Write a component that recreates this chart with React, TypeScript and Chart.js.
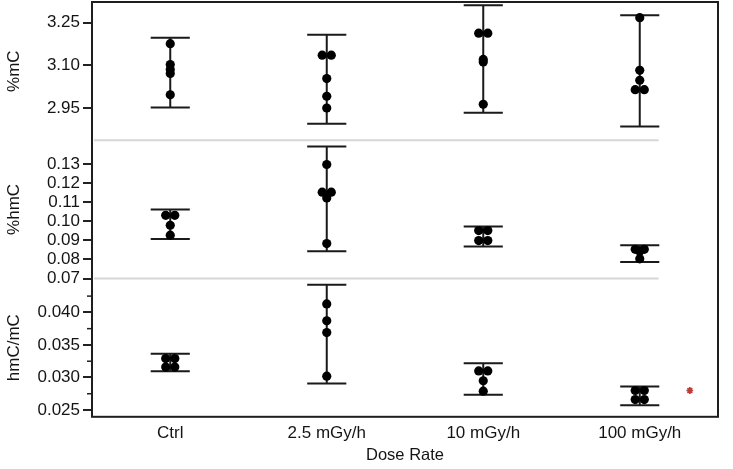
import React, { useEffect, useRef } from 'react';
import { Chart, registerables } from 'chart.js';

Chart.register(...registerables);

// ---------- data ----------
const categories = ['Ctrl', '2.5 mGy/h', '10 mGy/h', '100 mGy/h'];

// %mC
const mcCtrl = [3.176, 3.103, 3.086, 3.072, 2.997];
const mc25 = [3.136, 3.136, 3.054, 2.992, 2.951];
const mc10 = [3.213, 3.213, 3.121, 3.112, 2.964];
const mc100 = [3.267, 3.083, 3.048, 3.015, 3.015];
const mcLower = [2.953, 2.896, 2.934, 2.886];
const mcUpper = [3.197, 3.207, 3.311, 3.276];
const mcTicks = [2.95, 3.1, 3.25];
const mcRange = [2.838, 3.322];

// %hmC
const hmcCtrl = [0.1031, 0.1031, 0.0979, 0.0927];
const hmc25 = [0.1297, 0.1152, 0.1152, 0.1122, 0.0883];
const hmc10 = [0.0951, 0.0951, 0.0899, 0.0899];
const hmc100 = [0.0853, 0.0853, 0.0843, 0.0803];
const hmcLower = [0.0907, 0.0843, 0.0868, 0.0787];
const hmcUpper = [0.1061, 0.1391, 0.0972, 0.0874];
const hmcTicks = [0.07, 0.08, 0.09, 0.1, 0.11, 0.12, 0.13];
const hmcRange = [0.07, 0.1424];

// hmC/mC
const ratioCtrl = [0.0329, 0.0329, 0.0316, 0.0316];
const ratio25 = [0.0413, 0.0387, 0.0369, 0.0302];
const ratio10 = [0.031, 0.031, 0.0295, 0.0279];
const ratio100 = [0.028, 0.028, 0.0266, 0.0266];
const ratioLower = [0.03094, 0.02907, 0.02733, 0.02575];
const ratioUpper = [0.03365, 0.04425, 0.0322, 0.0286];
const ratioTicks = [0.025, 0.03, 0.035, 0.04];
const ratioMinorTicks = [0.0275, 0.0325, 0.0375, 0.0425];
const ratioRange = [0.02396, 0.0452];

// significance mark (hmC/mC, next to 100 mGy/h)
const sigCategory = 3;
const sigValue = 0.028;

// ---------- build ----------
// listed top panel first
const panels = [
  { id: 'yA', title: '%mC', values: [mcCtrl, mc25, mc10, mc100], lower: mcLower, upper: mcUpper, ticks: mcTicks, minor: [] as number[], range: mcRange, decimals: 2 },
  { id: 'yB', title: '%hmC', values: [hmcCtrl, hmc25, hmc10, hmc100], lower: hmcLower, upper: hmcUpper, ticks: hmcTicks, minor: [] as number[], range: hmcRange, decimals: 2 },
  { id: 'yC', title: 'hmC/mC', values: [ratioCtrl, ratio25, ratio10, ratio100], lower: ratioLower, upper: ratioUpper, ticks: ratioTicks, minor: ratioMinorTicks, range: ratioRange, decimals: 3 },
];

const DODGE = 0.058;
const CAP = 0.125;

function dodge(vals: number[], thresh: number) {
  const sorted = [...vals].sort((a, b) => b - a);
  const out: { v: number; off: number }[] = [];
  let i = 0;
  while (i < sorted.length) {
    let j = i + 1;
    while (j < sorted.length && Math.abs(sorted[j] - sorted[j - 1]) < thresh) j++;
    const n = j - i;
    for (let k = 0; k < n; k++) out.push({ v: sorted[i + k], off: (k - (n - 1) / 2) * DODGE });
    i = j;
  }
  return out;
}

const FONT = "'Liberation Sans', Arial, Helvetica, sans-serif";
const INK = '#141414';

const datasets: any[] = panels.map((p) => {
  const thresh = (p.range[1] - p.range[0]) * 0.01;
  return {
    label: p.title,
    yAxisID: p.id,
    data: p.values.flatMap((arr, ci) => dodge(arr, thresh).map((d) => ({ x: ci + d.off, y: d.v }))),
    pointRadius: 4.6,
    pointBackgroundColor: '#000',
    pointBorderWidth: 0,
    showLine: false,
  };
});
datasets.push({
  label: 'sig',
  yAxisID: 'yC',
  data: [{ x: sigCategory + 0.32, y: sigValue }],
  pointStyle: 'star',
  pointRadius: 3.4,
  pointBorderColor: '#c23b3b',
  pointBorderWidth: 1.7,
  showLine: false,
});

// Chart.js stacks left axes bottom-up in definition order, so define bottom panel first
const yScales: any = {};
[...panels].reverse().forEach((p) => {
  yScales[p.id] = {
    type: 'linear',
    position: 'left',
    stack: 'panels',
    stackWeight: 1,
    offset: false,
    min: p.range[0],
    max: p.range[1],
    afterBuildTicks: (s: any) => {
      s.ticks = p.ticks.map((v) => ({ value: v }));
    },
    afterFit: (s: any) => {
      s.width = 92;
      s.paddingTop = 0;
      s.paddingBottom = 0;
    },
    ticks: {
      autoSkip: false,
      callback: (v: any) => Number(v).toFixed(p.decimals),
      font: { size: 17, family: FONT },
      color: INK,
      padding: 3,
    },
    grid: { drawOnChartArea: false, drawTicks: true, tickLength: 9, color: '#222', lineWidth: 2 },
    border: { display: false },
    title: { display: true, text: p.title, font: { size: 17, family: FONT }, color: INK, padding: { top: 4, bottom: 0 } },
  };
});

const panelPlugin = {
  id: 'panelPlugin',
  beforeDatasetsDraw(chart: any) {
    const ctx = chart.ctx;
    const xs = chart.scales.x;
    const area = chart.chartArea;
    ctx.save();
    // separators between panels
    ctx.strokeStyle = '#d6d6d6';
    ctx.lineWidth = 2;
    panels.slice(0, -1).forEach((p) => {
      const y = chart.scales[p.id].bottom;
      ctx.beginPath();
      ctx.moveTo(area.left + 2, y);
      ctx.lineTo(xs.getPixelForValue(categories.length - 1 + 0.12), y);
      ctx.stroke();
    });
    // error bars
    ctx.strokeStyle = '#1a1a1a';
    ctx.lineWidth = 2;
    panels.forEach((p) => {
      const ys = chart.scales[p.id];
      categories.forEach((_, ci) => {
        const x = xs.getPixelForValue(ci);
        const xl = xs.getPixelForValue(ci - CAP);
        const xr = xs.getPixelForValue(ci + CAP);
        const yl = ys.getPixelForValue(p.lower[ci]);
        const yu = ys.getPixelForValue(p.upper[ci]);
        ctx.beginPath();
        ctx.moveTo(x, yl);
        ctx.lineTo(x, yu);
        ctx.moveTo(xl, yl);
        ctx.lineTo(xr, yl);
        ctx.moveTo(xl, yu);
        ctx.lineTo(xr, yu);
        ctx.stroke();
      });
    });
    ctx.restore();
  },
  afterDraw(chart: any) {
    const ctx = chart.ctx;
    const area = chart.chartArea;
    ctx.save();
    // minor ticks
    ctx.strokeStyle = '#222';
    ctx.lineWidth = 1.5;
    panels.forEach((p) => {
      const ys = chart.scales[p.id];
      p.minor.forEach((v) => {
        const y = ys.getPixelForValue(v);
        ctx.beginPath();
        ctx.moveTo(area.left - 5, y);
        ctx.lineTo(area.left, y);
        ctx.stroke();
      });
    });
    // frame
    ctx.strokeStyle = '#1e1e1e';
    ctx.lineWidth = 2;
    ctx.strokeRect(area.left, area.top, area.right - area.left, area.bottom - area.top);
    ctx.restore();
  },
};

export default function App() {
  const ref = useRef<HTMLCanvasElement>(null);
  useEffect(() => {
    if (!ref.current) return;
    const chart = new Chart(ref.current, {
      type: 'scatter',
      data: { datasets },
      options: {
        animation: false,
        responsive: false,
        layout: { autoPadding: false, padding: { top: 2, right: 15, bottom: 0, left: 0 } },
        plugins: { legend: { display: false }, tooltip: { enabled: false } },
        scales: {
          x: {
            type: 'linear',
            min: -0.5,
            max: categories.length - 0.5,
            afterBuildTicks: (s: any) => {
              s.ticks = categories.map((_, i) => ({ value: i }));
            },
            afterFit: (s: any) => {
              s.paddingLeft = 0;
              s.paddingRight = 0;
            },
            ticks: {
              autoSkip: false,
              maxRotation: 0,
              callback: (v: any) => categories[Math.round(Number(v))] ?? '',
              font: { size: 17, family: FONT },
              color: INK,
              padding: 6,
            },
            grid: { display: false, drawTicks: false },
            border: { display: false },
            title: { display: true, text: 'Dose Rate', font: { size: 16.5, family: FONT }, color: INK, padding: { top: -4, bottom: 4 } },
          },
          ...yScales,
        },
      } as any,
      plugins: [panelPlugin],
    });
    return () => chart.destroy();
  }, []);
  return (
    <div style={{ position: 'absolute', left: 0, top: 0, width: 733, height: 469, background: '#fff' }}>
      <canvas ref={ref} width={733} height={469} style={{ display: 'block' }} />
    </div>
  );
}
